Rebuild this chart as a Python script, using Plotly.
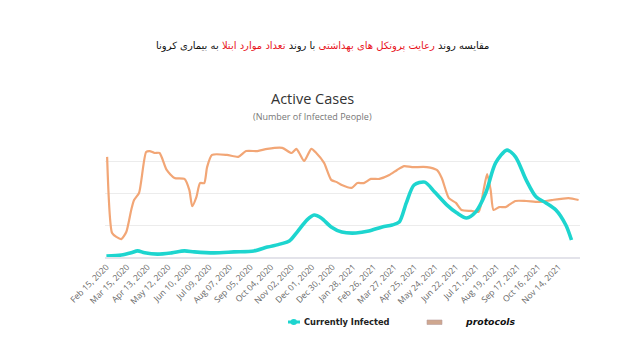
import pandas as pd
import plotly.graph_objects as go

start = pd.Timestamp("2020-02-15")

# protocols (orange) : day offset from Feb 15 2020, value
prot_days = [1, 8, 14, 21, 28, 35, 39, 46, 56, 61, 68, 75, 85, 96, 110, 117, 121, 127, 132, 138,
             142, 149, 170, 186, 197, 213, 227, 248, 261, 268, 272, 279, 289, 296, 307, 317, 325,
             332, 346, 354, 363, 373, 385, 399, 410, 420, 431, 452, 466, 473, 483, 493, 501, 515,
             525, 532, 537, 542, 546, 554, 563, 577, 592, 610, 628, 652, 666]
prot_vals = [3.13, 0.75, 0.63, 0.56, 0.78, 1.47, 1.78, 2.0, 3.28, 3.31, 3.25, 3.25, 2.72, 2.47, 2.44,
             2.09, 1.59, 1.88, 2.31, 2.31, 2.81, 3.19, 3.19, 3.13, 3.31, 3.31, 3.38, 3.41, 3.25, 3.38,
             3.25, 3.0, 3.38, 3.25, 2.94, 2.41, 2.34, 2.25, 2.16, 2.31, 2.31, 2.44, 2.44, 2.56, 2.72,
             2.84, 2.81, 2.81, 2.72, 2.47, 1.84, 1.69, 1.47, 1.44, 1.41, 2.09, 2.59, 2.09, 1.47, 1.56,
             1.56, 1.75, 1.75, 1.72, 1.78, 1.84, 1.78]

# currently infected (teal)
inf_days = [0, 21, 35, 44, 54, 72, 92, 110, 124, 152, 180, 208, 227, 246, 258, 269, 283, 293, 303,
            317, 332, 352, 370, 389, 403, 413, 423, 434, 449, 463, 480, 494, 508, 521, 535, 549,
            565, 577, 592, 606, 620, 634, 648, 656]
inf_vals = [0.03, 0.06, 0.13, 0.19, 0.13, 0.09, 0.13, 0.19, 0.16, 0.13, 0.16, 0.19, 0.31, 0.41, 0.5,
            0.78, 1.16, 1.31, 1.22, 0.94, 0.78, 0.75, 0.81, 0.94, 1.0, 1.09, 1.69, 2.25, 2.34, 2.03,
            1.63, 1.38, 1.22, 1.41, 2.0, 2.94, 3.34, 3.13, 2.41, 1.88, 1.69, 1.47, 1.0, 0.53]

tick_labels = ["Feb 15, 2020", "Mar 15, 2020", "Apr 13, 2020", "May 12, 2020", "Jun 10, 2020",
               "Jul 09, 2020", "Aug 07, 2020", "Sep 05, 2020", "Oct 04, 2020", "Nov 02, 2020",
               "Dec 01, 2020", "Dec 30, 2020", "Jan 28, 2021", "Feb 26, 2021", "Mar 27, 2021",
               "Apr 25, 2021", "May 24, 2021", "Jun 22, 2021", "Jul 21, 2021", "Aug 19, 2021",
               "Sep 17, 2021", "Oct 16, 2021", "Nov 14, 2021"]
tick_vals = [pd.to_datetime(t, format="%b %d, %Y") for t in tick_labels]

prot_x = [start + pd.Timedelta(days=d) for d in prot_days]
inf_x = [start + pd.Timedelta(days=d) for d in inf_days]

TEAL = "#1dd5cf"
ORANGE = "#f2a676"

OFF = 8  # page body margin
W, H = 640, 360
L, R, T, B = 105 - OFF, 640 - 580 + OFF, 129 - OFF, 360 - 257 + OFF
PW, PH = W - L - R, H - T - B


def px(x):
    return (x - OFF - L) / PW


def py(y):
    return (H - B - (y - OFF)) / PH


fig = go.Figure()
fig.add_trace(go.Scatter(x=prot_x, y=prot_vals, mode="lines",
                         line=dict(color=ORANGE, width=2.2, shape="spline", smoothing=0.6),
                         showlegend=False, hoverinfo="skip"))
fig.add_trace(go.Scatter(x=inf_x, y=inf_vals, mode="lines",
                         line=dict(color=TEAL, width=3.6, shape="spline", smoothing=0.8),
                         showlegend=False, hoverinfo="skip"))

fig.update_layout(
    width=W, height=H,
    margin=dict(l=L, r=R, t=T, b=B),
    paper_bgcolor="white", plot_bgcolor="white",
    font=dict(family="Open Sans, DejaVu Sans, sans-serif", color="#666"),
    xaxis=dict(range=[start - pd.Timedelta(days=2), start + pd.Timedelta(days=668)],
               tickvals=tick_vals, ticktext=tick_labels, tickangle=-45,
               tickfont=dict(size=8.5, color="#666"), showgrid=False, zeroline=False,
               showline=True, linecolor="#e3e3ea", linewidth=1.5, ticks=""),
    yaxis=dict(range=[0, 4], showticklabels=False, gridcolor="#ececec", gridwidth=1,
               zeroline=False, showline=False, dtick=1, ticks=""),
)

ann = [
    dict(x=312, y=98, text="Active Cases", size=14.5, color="#333"),
    dict(x=312, y=116, text="(Number of Infected People)", size=9, color="#777"),
]
for a in ann:
    fig.add_annotation(xref="paper", yref="paper", x=px(a["x"]), y=py(a["y"]),
                       xanchor="center", yanchor="middle", text=a["text"], showarrow=False,
                       font=dict(size=a["size"], color=a["color"], family="Open Sans, DejaVu Sans, sans-serif"))

persian = ("مقایسه روند <span style='color:#e8141c'>رعایت پروتکل های بهداشتی</span> با روند "
           "<span style='color:#e8141c'>تعداد موارد ابتلا</span> به بیماری کرونا")
fig.add_annotation(xref="paper", yref="paper", x=px(322), y=py(46), xanchor="center", yanchor="middle",
                   text=persian, showarrow=False, font=dict(size=10, color="#111", family="DejaVu Sans, sans-serif"))

# legend drawn manually
fig.add_shape(type="line", xref="paper", yref="paper", x0=px(288), x1=px(300),
              y0=py(322), y1=py(322), line=dict(color=TEAL, width=3))
fig.add_shape(type="circle", xref="paper", yref="paper", x0=px(290.5), x1=px(297),
              y0=py(325), y1=py(319), fillcolor=TEAL, line=dict(width=0))
fig.add_annotation(xref="paper", yref="paper", x=px(302), y=py(322), xanchor="left", yanchor="middle",
                   text="<b>Currently Infected</b>", showarrow=False,
                   font=dict(size=8.3, color="#222", family="DejaVu Sans, sans-serif"))
fig.add_shape(type="rect", xref="paper", yref="paper", x0=px(427), x1=px(442),
              y0=py(324.5), y1=py(320), fillcolor="#cfa78f", line=dict(color="#b8a0a0", width=0.6))
fig.add_annotation(xref="paper", yref="paper", x=px(463), y=py(321), xanchor="left", yanchor="middle",
                   text="<b><i>protocols</i></b>", showarrow=False,
                   font=dict(size=9.3, color="#111", family="DejaVu Sans, sans-serif"))

fig.write_html("out.html")
